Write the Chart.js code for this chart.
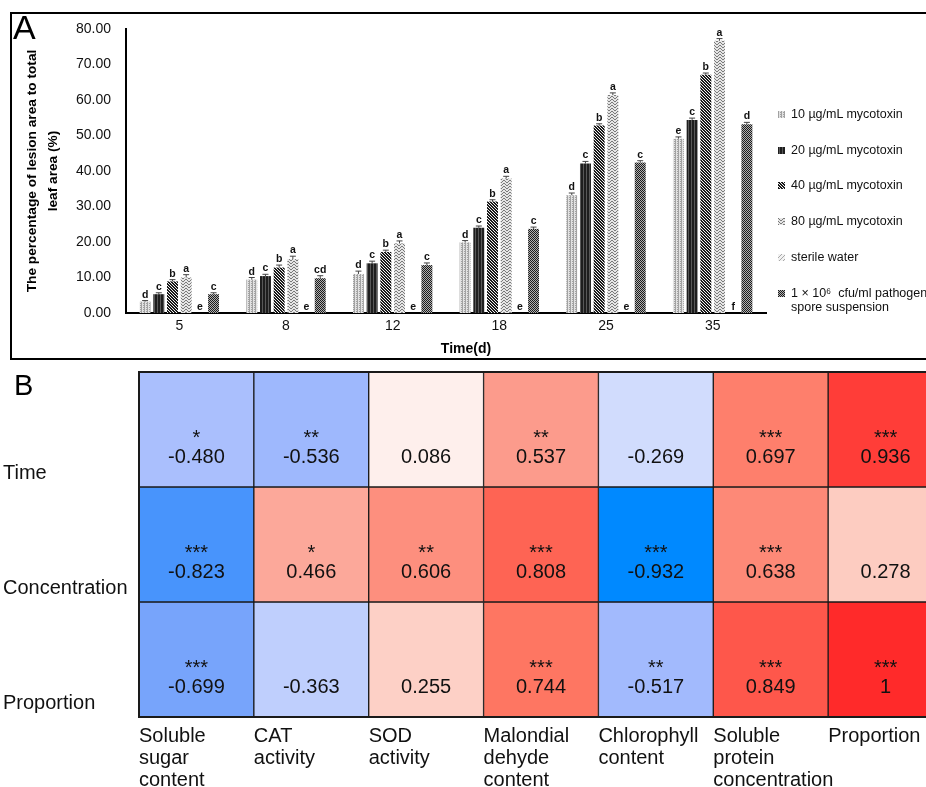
<!DOCTYPE html>
<html>
<head>
<meta charset="utf-8">
<script src="https://cdn.jsdelivr.net/npm/chart.js@4.4.1/dist/chart.umd.min.js"></script>
<style>
  html, body { margin: 0; padding: 0; background: #fff; overflow: hidden; width: 926px; height: 787px; }
  body { position: relative; font-family: "Liberation Sans", Arial, sans-serif; color: #111; }
  #boxA { position: absolute; left: 10px; top: 12px; width: 1000px; height: 344px; border: 2px solid #000; }
  #chartA { position: absolute; left: 0; top: 0; }
  #chartB { position: absolute; left: 0; top: 360px; }
  .panel { position: absolute; line-height: 1; color: #000; }
  #xTitleA { position: absolute; left: 466px; top: 340px; transform: translateX(-50%); font-weight: bold; font-size: 14px; line-height: 16px; color: #000; }
  #legendA { position: absolute; left: 778px; top: 0; font-size: 12.5px; line-height: 14.5px; color: #111; }
  #legendA .item { position: absolute; left: 0; white-space: pre; }
  #legendA .sw { position: absolute; left: 0; top: 4px; width: 7px; height: 7px; }
  #legendA .txt { position: absolute; left: 13px; top: 0; }
</style>
</head>
<body>
<div id="boxA"></div>
<canvas id="chartA" width="926" height="362"></canvas>
<canvas id="chartB" width="951" height="427"></canvas>
<div class="panel" style="left:13px; top:10px; font-size:34px;">A</div>
<div class="panel" style="left:14px; top:371px; font-size:29px;">B</div>
<div id="xTitleA">Time(d)</div>
<div id="legendA"></div>
<script>
// Panel A: lesion area (%) by day and treatment
const days = ['5', '8', '12', '18', '25', '35'];
const treatments = ['10 µg/mL mycotoxin', '20 µg/mL mycotoxin', '40 µg/mL mycotoxin',
  '80 µg/mL mycotoxin', 'sterile water', '1 × 10⁶  cfu/ml pathogen\nspore suspension'];

const lesion10 = [3.2, 9.4, 11.0, 19.9, 33.2, 49.1];
const lesion20 = [5.3, 10.4, 14.0, 24.0, 42.1, 54.4];
const lesion40 = [8.9, 12.8, 17.2, 31.4, 52.8, 67.1];
const lesion80 = [10.0, 15.2, 19.6, 37.9, 61.4, 76.7];
const lesionWater = [0, 0, 0, 0, 0, 0];
const lesionSpore = [5.3, 9.8, 13.5, 23.7, 42.4, 53.2];

const err10 = [0.3, 0.6, 0.8, 0.5, 0.6, 0.5];
const err20 = [0.4, 0.5, 0.6, 0.5, 0.6, 0.5];
const err40 = [0.5, 0.7, 0.5, 0.5, 0.5, 0.5];
const err80 = [0.8, 0.8, 0.7, 0.6, 0.6, 0.6];
const errWater = [0, 0, 0, 0, 0, 0];
const errSpore = [0.4, 0.7, 0.6, 0.5, 0.5, 0.5];

const letters10 = ['d', 'd', 'd', 'd', 'd', 'e'];
const letters20 = ['c', 'c', 'c', 'c', 'c', 'c'];
const letters40 = ['b', 'b', 'b', 'b', 'b', 'b'];
const letters80 = ['a', 'a', 'a', 'a', 'a', 'a'];
const lettersWater = ['e', 'e', 'e', 'e', 'e', 'f'];
const lettersSpore = ['c', 'cd', 'c', 'c', 'c', 'd'];

// Panel B: correlation matrix
const rowLabels = ['Time', 'Concentration', 'Proportion'];
const colLabels = [['Soluble', 'sugar', 'content'], ['CAT', 'activity'], ['SOD', 'activity'],
  ['Malondial', 'dehyde', 'content'], ['Chlorophyll', 'content'],
  ['Soluble', 'protein', 'concentration'], ['Proportion']];
const corrTime = [-0.480, -0.536, 0.086, 0.537, -0.269, 0.697, 0.936];
const corrConcentration = [-0.823, 0.466, 0.606, 0.808, -0.932, 0.638, 0.278];
const corrProportion = [-0.699, -0.363, 0.255, 0.744, -0.517, 0.849, 1];
const sigTime = ['*', '**', '', '**', '', '***', '***'];
const sigConcentration = ['***', '*', '**', '***', '***', '***', ''];
const sigProportion = ['***', '', '', '***', '**', '***', '***'];

const FONT = '"Liberation Sans", Arial, sans-serif';
Chart.defaults.font.family = FONT;
Chart.defaults.color = '#111';

// small repeating tiles for the bar textures
function tile(w, h, bg, fg, pts) {
  const c = document.createElement('canvas');
  c.width = w; c.height = h;
  const g = c.getContext('2d');
  g.fillStyle = bg; g.fillRect(0, 0, w, h);
  g.fillStyle = fg;
  pts.forEach(p => g.fillRect(p[0], p[1], 1, 1));
  return c;
}
const tiles = [
  tile(3, 2, '#e2e2e2', '#a2a2a2', [[0, 0], [0, 1], [2, 1]]),
  tile(3, 1, '#1e1e1e', '#585858', [[1, 0]]),
  tile(3, 3, '#f2f2f2', '#1a1a1a', [[0, 0], [1, 1], [2, 2], [1, 0], [2, 1], [0, 2]]),
  tile(6, 3, '#e6e6e6', '#7a7a7a', [[0, 0], [1, 1], [2, 2], [3, 2], [4, 1], [5, 0]]),
  tile(4, 4, '#f2f2f2', '#a8a8a8', [[3, 0], [2, 1], [1, 2], [0, 3]]),
  tile(2, 2, '#b0b0b0', '#1c1c1c', [[0, 0], [1, 1]])
];
const patterns = tiles.map(t => t.getContext('2d').createPattern(t, 'repeat'));

const seriesA = [
  [lesion10, err10, letters10], [lesion20, err20, letters20], [lesion40, err40, letters40],
  [lesion80, err80, letters80], [lesionWater, errWater, lettersWater], [lesionSpore, errSpore, lettersSpore]
];

// error bars and significance letters above each bar
const barMarks = {
  id: 'barMarks',
  afterDatasetsDraw(chart) {
    const { ctx, scales: { y } } = chart;
    ctx.save();
    ctx.font = 'bold 10.5px ' + FONT;
    ctx.textAlign = 'center';
    ctx.textBaseline = 'alphabetic';
    chart.data.datasets.forEach((ds, i) => {
      chart.getDatasetMeta(i).data.forEach((bar, j) => {
        const v = ds.data[j], e = ds.errors[j];
        const top = y.getPixelForValue(v + e);
        if (e > 0) {
          ctx.strokeStyle = '#444';
          ctx.lineWidth = 1;
          ctx.beginPath();
          ctx.moveTo(bar.x, y.getPixelForValue(v));
          ctx.lineTo(bar.x, top);
          ctx.moveTo(bar.x - 3, top);
          ctx.lineTo(bar.x + 3, top);
          ctx.stroke();
        }
        ctx.fillStyle = '#111';
        ctx.fillText(ds.letters[j], bar.x, top - 3);
      });
    });
    ctx.restore();
  }
};

const chartA = new Chart(document.getElementById('chartA'), {
  type: 'bar',
  data: {
    labels: days,
    datasets: seriesA.map((s, i) => ({
      label: treatments[i],
      data: s[0],
      errors: s[1],
      letters: s[2],
      backgroundColor: patterns[i],
      borderWidth: 0,
      categoryPercentage: 0.77,
      barPercentage: 0.8
    }))
  },
  options: {
    responsive: false,
    animation: false,
    layout: { padding: { left: 10, top: 29, right: 160, bottom: 0 } },
    plugins: { legend: { display: false }, tooltip: { enabled: false } },
    scales: {
      x: {
        grid: { display: false, drawTicks: false },
        border: { color: '#000', width: 2 },
        ticks: { font: { size: 14 }, color: '#111', padding: 5 },
        afterFit: s => { s.height = 49; }
      },
      y: {
        min: 0, max: 80,
        grid: { display: false, drawTicks: false },
        border: { color: '#000', width: 2 },
        ticks: { stepSize: 10, font: { size: 14 }, color: '#111', padding: 15, callback: v => v.toFixed(2) },
        title: {
          display: true,
          text: ['The percentage of lesion area to total', 'leaf area (%)'],
          color: '#000',
          font: { size: 13.7, weight: 'bold', lineHeight: 1.53 },
          padding: { top: 11.5, bottom: 0 }
        },
        afterFit: s => { s.width = 116; }
      }
    }
  },
  plugins: [barMarks]
});

// legend for panel A, built from the chart's datasets
const legendEl = document.getElementById('legendA');
chartA.data.datasets.forEach((ds, i) => {
  const item = document.createElement('div');
  item.className = 'item';
  item.style.top = (106.75 + i * 35.8) + 'px';
  const sw = document.createElement('span');
  sw.className = 'sw';
  sw.style.backgroundImage = 'url(' + tiles[i].toDataURL() + ')';
  const tx = document.createElement('span');
  tx.className = 'txt';
  tx.textContent = ds.label;
  item.appendChild(sw);
  item.appendChild(tx);
  legendEl.appendChild(item);
});

// diverging colour scale for the correlation cells
const redStops = [[0, [255, 255, 255]], [0.25, [253, 209, 199]], [0.5, [252, 162, 147]], [0.75, [254, 117, 97]], [1, [255, 42, 42]]];
const blueStops = [[0, [255, 255, 255]], [0.25, [212, 223, 253]], [0.5, [166, 188, 253]], [0.7, [119, 164, 251]],
  [0.82, [74, 148, 252]], [0.93, [0, 137, 255]], [1, [0, 130, 255]]];
function heatColor(v) {
  const stops = v < 0 ? blueStops : redStops;
  const a = Math.abs(v);
  for (let k = 1; k < stops.length; k++) {
    if (a <= stops[k][0]) {
      const [p0, c0] = stops[k - 1], [p1, c1] = stops[k];
      const t = (a - p0) / (p1 - p0);
      const c = c0.map((x, n) => Math.round(x + (c1[n] - x) * t));
      return 'rgb(' + c.join(',') + ')';
    }
  }
  const last = stops[stops.length - 1][1];
  return 'rgb(' + last.join(',') + ')';
}
const fmt = v => (v === 1 ? '1' : v.toFixed(3));

const corrRows = [corrTime, corrConcentration, corrProportion];
const sigRows = [sigTime, sigConcentration, sigProportion];
const rowLabelShift = 0.88;

const cellText = {
  id: 'cellText',
  afterDatasetsDraw(chart) {
    const { ctx, chartArea: ca } = chart;
    ctx.save();
    ctx.fillStyle = '#111';
    ctx.textAlign = 'center';
    ctx.textBaseline = 'alphabetic';
    ctx.font = '20px ' + FONT;
    chart.data.datasets.forEach((ds, r) => {
      chart.getDatasetMeta(r).data.forEach((cell, c) => {
        const cy = (cell.y + cell.base) / 2;
        if (ds.stars[c]) ctx.fillText(ds.stars[c], cell.x, cy + 14.5);
        ctx.fillText(fmt(ds.values[c]), cell.x, cy + 33.5);
      });
    });
    ctx.strokeStyle = '#1a1a1a';
    ctx.lineWidth = 2;
    ctx.strokeRect(ca.left, ca.top, ca.right - ca.left, ca.bottom - ca.top);
    ctx.restore();
  }
};

new Chart(document.getElementById('chartB'), {
  type: 'bar',
  data: {
    datasets: rowLabels.map((name, r) => ({
      label: name,
      values: corrRows[r],
      stars: sigRows[r],
      data: corrRows[r].map((v, c) => ({ x: c + 0.5, y: [r, r + 1] })),
      backgroundColor: corrRows[r].map(heatColor),
      borderColor: '#1a1a1a',
      borderWidth: 1,
      borderSkipped: false,
      grouped: false,
      categoryPercentage: 1,
      barPercentage: 1
    }))
  },
  options: {
    responsive: false,
    animation: false,
    layout: { padding: { left: 3, top: 0, right: 0, bottom: 0 } },
    plugins: { legend: { display: false }, tooltip: { enabled: false } },
    scales: {
      x: {
        type: 'linear',
        position: 'bottom',
        offset: false,
        min: 0, max: 7,
        grid: { display: false, drawTicks: false },
        border: { display: false },
        ticks: {
          stepSize: 1, autoSkip: false, maxRotation: 0, align: 'start', padding: 8,
          font: { size: 20, lineHeight: 1.1 }, color: '#111',
          callback: v => colLabels[v] || ''
        },
        afterFit: s => { s.height = 70; }
      },
      y: {
        type: 'linear',
        min: 0, max: 3,
        reverse: true,
        grid: { display: false, drawTicks: false },
        border: { display: false },
        afterBuildTicks: s => { s.ticks = rowLabels.map((_, i) => ({ value: i + rowLabelShift })); },
        ticks: { crossAlign: 'far', padding: 0, font: { size: 20 }, color: '#111', callback: (v, i) => rowLabels[i] },
        afterFit: s => { s.width = 136; }
      }
    }
  },
  plugins: [cellText]
});
</script>
</body>
</html>
